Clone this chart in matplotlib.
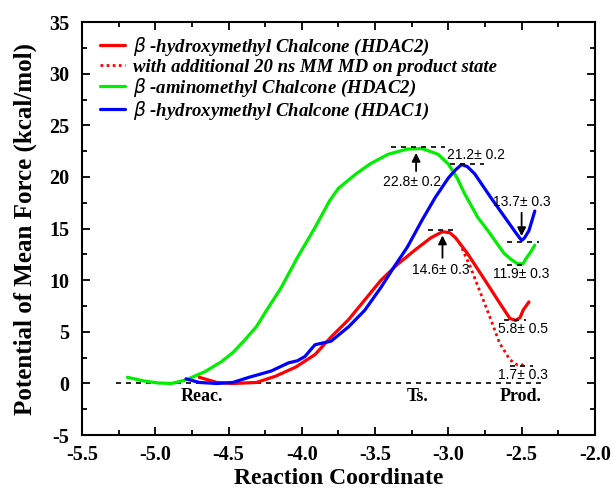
import numpy as np
import matplotlib
matplotlib.use("Agg")
import matplotlib.pyplot as plt
from matplotlib.ticker import MultipleLocator

plt.rcParams["font.family"] = ["Liberation Serif", "DejaVu Serif"]
plt.rcParams["axes.unicode_minus"] = False

# reaction coordinate / PMF (kcal/mol)
hm2_x = [-4.70, -4.58, -4.47, -4.31, -4.18, -4.04, -3.91, -3.80, -3.68, -3.57, -3.46, -3.35,
         -3.23, -3.12, -3.04, -2.99, -2.95, -2.87, -2.75, -2.65, -2.58, -2.54, -2.51, -2.49, -2.45]
hm2_y = [0.6, 0.1, 0.0, 0.1, 0.7, 1.6, 2.8, 4.5, 6.2, 8.1, 10.0, 11.5,
         12.9, 14.1, 14.7, 14.6, 14.1, 12.6, 10.0, 7.8, 6.3, 6.1, 6.4, 7.1, 7.9]

mm_x = [-2.95, -2.92, -2.85, -2.78, -2.71, -2.65, -2.58, -2.53, -2.49, -2.47]
mm_y = [14.1, 13.5, 11.3, 8.75, 6.2, 3.9, 2.3, 1.8, 1.8, 2.1]

am2_x = [-5.19, -5.08, -4.98, -4.89, -4.79, -4.66, -4.55, -4.47, -4.39, -4.31, -4.24, -4.14,
         -4.03, -3.91, -3.81, -3.75, -3.63, -3.53, -3.41, -3.28, -3.18, -3.07, -3.00, -2.94,
         -2.89, -2.80, -2.73, -2.67, -2.62, -2.57, -2.53, -2.49, -2.47, -2.44, -2.41]
am2_y = [0.6, 0.25, 0.05, 0.0, 0.35, 1.15, 2.1, 3.0, 4.2, 5.5, 7.1, 9.3,
         12.2, 15.1, 17.7, 18.9, 20.3, 21.3, 22.2, 22.7, 22.75, 22.2, 21.25, 19.9,
         18.4, 16.1, 14.8, 13.6, 12.6, 12.0, 11.6, 11.6, 12.1, 12.7, 13.4]

hm1_x = [-4.79, -4.70, -4.58, -4.47, -4.36, -4.21, -4.09, -4.03, -3.98, -3.91, -3.80, -3.68,
         -3.57, -3.46, -3.37, -3.28, -3.18, -3.09, -3.00, -2.95, -2.91, -2.87, -2.82, -2.71,
         -2.60, -2.54, -2.50, -2.48, -2.45, -2.41]
hm1_y = [0.45, 0.1, 0.0, 0.1, 0.6, 1.2, 2.0, 2.2, 2.6, 3.75, 4.1, 5.5,
         7.1, 9.3, 11.3, 13.2, 15.8, 18.0, 19.9, 20.7, 21.2, 21.0, 20.3, 18.0,
         15.8, 14.6, 13.85, 14.1, 14.8, 16.7]

labels = [r"$\beta$ -hydroxymethyl Chalcone (HDAC2)",
          "with additional 20 ns MM MD on product state",
          r"$\beta$ -aminomethyl Chalcone (HDAC2)",
          r"$\beta$ -hydroxymethyl Chalcone (HDAC1)"]

fig = plt.figure(figsize=(6.15, 4.9), dpi=100)
ax = fig.add_axes([0.1333, 0.112, 0.834, 0.843])

ax.plot([-5.27, -2.35], [0, 0], ls=(0, (3, 3)), color="black", lw=1.2)

line_kw = dict(lw=2.3, solid_joinstyle="round", solid_capstyle="round")
ax.plot(hm2_x, hm2_y, color="#ff0000", label=labels[0], **line_kw)
ax.plot(mm_x, mm_y, color="#ff0000", lw=2.0, ls=(0, (1, 1.2)), label=labels[1])
ax.plot(am2_x, am2_y, color="#00ee00", label=labels[2], **line_kw)
ax.plot(hm1_x, hm1_y, color="#0000ff", label=labels[3], **line_kw)

# barrier / product levels
dash = dict(color="black", lw=1.2, ls=(0, (3, 3)))
ax.plot([-3.39, -3.02], [22.9, 22.9], **dash)
ax.plot([-2.99, -2.76], [21.25, 21.25], **dash)
ax.plot([-2.60, -2.38], [13.7, 13.7], **dash)
ax.plot([-2.60, -2.46], [11.5, 11.5], **dash)
ax.plot([-3.14, -2.96], [14.9, 14.9], **dash)
ax.plot([-2.62, -2.47], [6.1, 6.1], **dash)
ax.plot([-2.58, -2.42], [1.7, 1.7], **dash)

arr = dict(arrowstyle="-|>,head_width=0.25,head_length=0.5", color="black", lw=1.3)
ax.annotate("", xy=(-3.22, 22.6), xytext=(-3.22, 20.3), arrowprops=arr)
ax.annotate("", xy=(-3.04, 14.6), xytext=(-3.04, 11.9), arrowprops=arr)
ax.annotate("", xy=(-2.50, 14.0), xytext=(-2.50, 16.8), arrowprops=arr)

tfont = dict(family="Liberation Sans", fontsize=10, ha="center", va="center")
ax.text(-3.25, 19.5, "22.8± 0.2", **tfont)
ax.text(-2.81, 22.1, "21.2± 0.2", **tfont)
ax.text(-2.50, 17.6, "13.7± 0.3", **tfont)
ax.text(-2.50, 10.6, "11.9± 0.3", **tfont)
ax.text(-3.05, 11.0, "14.6± 0.3", **tfont)
ax.text(-2.49, 5.3, "5.8± 0.5", **tfont)
ax.text(-2.49, 0.85, "1.7± 0.3", **tfont)

sfont = dict(fontsize=13, fontweight="bold", ha="center", va="center")
ax.text(-4.68, -1.3, "Reac.", **sfont)
ax.text(-3.21, -1.3, "Ts.", **sfont)
ax.text(-2.51, -1.3, "Prod.", **sfont)

ax.set_xlim(-5.5, -2.0)
ax.set_ylim(-5, 35)
ax.xaxis.set_major_locator(MultipleLocator(0.5))
ax.xaxis.set_minor_locator(MultipleLocator(0.25))
ax.yaxis.set_major_locator(MultipleLocator(5))
ax.yaxis.set_minor_locator(MultipleLocator(2.5))
ax.set_xticklabels([f"{v:.1f}" for v in ax.get_xticks()])
ax.tick_params(which="both", direction="in", top=True, right=True, width=1.3)
ax.tick_params(which="major", length=6, labelsize=14.5)
ax.tick_params(which="minor", length=3.5)
ax.tick_params(axis="x", which="major", pad=7)
ax.tick_params(axis="y", which="major", pad=9)
for lab in ax.get_xticklabels() + ax.get_yticklabels():
    lab.set_fontweight("bold")
for sp in ax.spines.values():
    sp.set_linewidth(1.5)

ax.set_xlabel("Reaction Coordinate", fontsize=17, fontweight="bold", labelpad=2)
ax.set_ylabel("Potential of Mean Force (kcal/mol)", fontsize=18, fontweight="bold", labelpad=9)

leg = ax.legend(loc="upper left", bbox_to_anchor=(0.02, 0.985), frameon=False,
                handlelength=1.35, handletextpad=0.4, labelspacing=0.05, borderaxespad=0,
                prop=dict(family="Liberation Serif", style="italic", weight="bold", size=13.5))

fig.savefig("out.png", dpi=100)
